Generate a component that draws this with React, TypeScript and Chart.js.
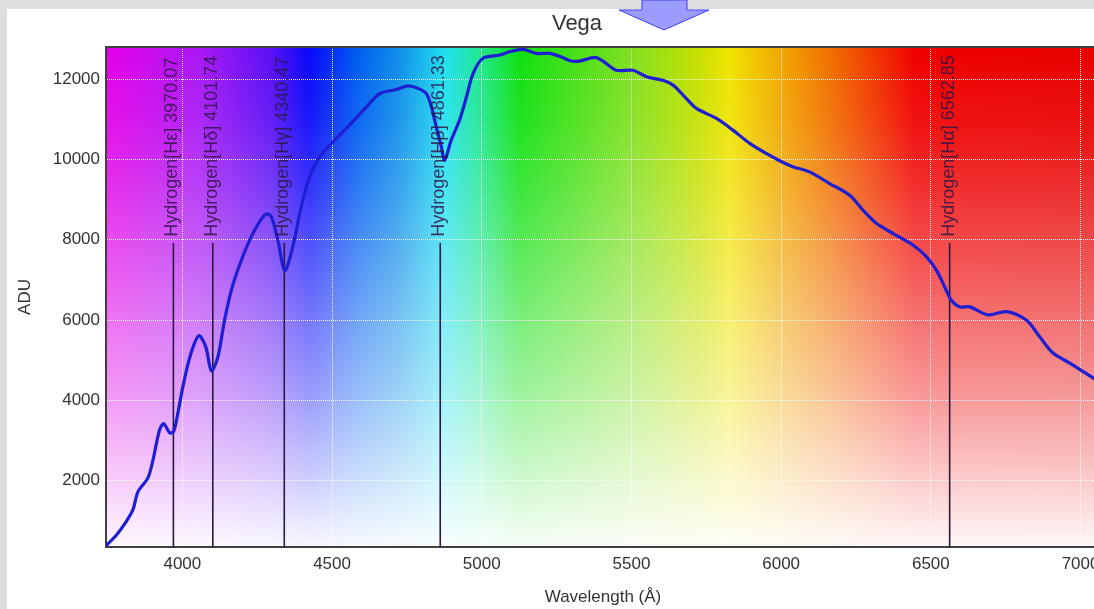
import React, { useEffect, useRef } from "react";
import { Chart, registerables } from "chart.js";

Chart.register(...registerables);

// ---- Data ----
const WAVELENGTHS = [
  3745, 3780, 3813, 3835, 3852, 3885, 3902, 3924, 3938, 3958, 3971, 3985, 4002, 4027, 4055, 4078, 4097,
  4119, 4141, 4164, 4191, 4225, 4258, 4281, 4297, 4319, 4342, 4369, 4397, 4425, 4459, 4503, 4559, 4615,
  4659, 4715, 4754, 4787, 4815, 4832, 4848, 4865, 4876, 4898, 4926, 4949, 4971, 5004, 5060, 5093, 5138,
  5182, 5227, 5266, 5299, 5327, 5377, 5405, 5450, 5505, 5550, 5605, 5639, 5678, 5717, 5784, 5839, 5895,
  5950, 6000, 6039, 6095, 6162, 6229, 6273, 6318, 6373, 6440, 6485, 6518, 6546, 6568, 6596, 6630, 6691,
  6752, 6819, 6863, 6908, 6964, 7044, 7065,
];
const ADU = [
  380, 650, 990, 1280, 1730, 2070, 2520, 3270, 3420, 3190, 3230, 3680, 4350, 5130, 5610, 5340, 4740,
  5090, 6000, 6750, 7370, 7990, 8450, 8640, 8580, 7990, 7230, 7830, 8820, 9570, 10070, 10440, 10860, 11310,
  11640, 11740, 11830, 11770, 11640, 11310, 10810, 10320, 9980, 10480, 10980, 11560, 12140, 12520, 12600, 12680, 12740,
  12640, 12640, 12550, 12450, 12450, 12540, 12450, 12220, 12220, 12060, 11970, 11850, 11560, 11270, 11020, 10730, 10400,
  10150, 9950, 9820, 9690, 9400, 9110, 8740, 8410, 8160, 7870, 7580, 7250, 6830, 6500, 6330, 6330, 6130,
  6210, 6000, 5590, 5180, 4930, 4550, 4450,
];
const LINE_WAVELENGTHS = [3970.07, 4101.74, 4340.47, 4861.33, 6562.85];
const LINE_LABELS = [
  "Hydrogen[Hε] 3970.07",
  "Hydrogen[Hδ] 4101.74",
  "Hydrogen[Hγ] 4340.47",
  "Hydrogen[Hβ] 4861.33",
  "Hydrogen[Hα] 6562.85",
];
const LINE_TOP = 7920;
const LABEL_BASE = 8000;
const X_TICKS = [4000, 4500, 5000, 5500, 6000, 6500, 7000];
const Y_TICKS = [2000, 4000, 6000, 8000, 10000, 12000];
const X_MIN = 3745;
const X_MAX = 7065;
const Y_MIN = 350;
const Y_MAX = 12800;

// ---- Styles ----
const FONT = '"Liberation Sans", Arial, sans-serif';
const TEXT = "#333333";
const SPECTRUM_STOPS: [number, string][] = [
  [3745, "#e400e8"],
  [4059, "#a818f4"],
  [4293, "#5a10f4"],
  [4426, "#0808f8"],
  [4593, "#0060f0"],
  [4727, "#1090e8"],
  [4877, "#20e0f0"],
  [4994, "#20e890"],
  [5128, "#10e010"],
  [5495, "#80e020"],
  [5729, "#c8e000"],
  [5829, "#f0e400"],
  [5996, "#f0a800"],
  [6163, "#f07000"],
  [6330, "#f03000"],
  [6447, "#f00000"],
  [7065, "#e80000"],
];
const FADE_STOPS: [number, number][] = [
  [0, 0],
  [0.15, 0.07],
  [0.3, 0.2],
  [0.5, 0.4],
  [0.7, 0.6],
  [0.85, 0.78],
  [1, 0.97],
];

const spectrumBg = {
  id: "spectrumBg",
  beforeDraw(chart: any) {
    const { ctx, chartArea: a, scales } = chart;
    const x = scales.x;
    ctx.save();
    const g = ctx.createLinearGradient(a.left, 0, a.right, 0);
    for (const [w, c] of SPECTRUM_STOPS) {
      const px = x.getPixelForValue(w);
      const t = Math.min(1, Math.max(0, (px - a.left) / (a.right - a.left)));
      g.addColorStop(t, c);
    }
    ctx.fillStyle = g;
    ctx.fillRect(a.left, a.top, a.right - a.left, a.bottom - a.top);
    const v = ctx.createLinearGradient(0, a.top, 0, a.bottom);
    for (const [t, al] of FADE_STOPS) v.addColorStop(t, `rgba(255,255,255,${al})`);
    ctx.fillStyle = v;
    ctx.fillRect(a.left, a.top, a.right - a.left, a.bottom - a.top);
    ctx.restore();
  },
};

const lineLabels = {
  id: "lineLabels",
  afterDatasetsDraw(chart: any) {
    const { ctx, scales } = chart;
    const x = scales.x;
    const y = scales.y;
    ctx.save();
    ctx.font = `18px ${FONT}`;
    ctx.fillStyle = "rgba(48,22,70,0.85)";
    ctx.textAlign = "left";
    ctx.textBaseline = "middle";
    LINE_WAVELENGTHS.forEach((w, i) => {
      const px = x.getPixelForValue(w) - 1;
      const py = y.getPixelForValue(LABEL_BASE) - 3;
      ctx.save();
      ctx.translate(px, py);
      ctx.rotate(-Math.PI / 2);
      ctx.fillText(LINE_LABELS[i], 0, 0);
      ctx.restore();
    });
    ctx.restore();
  },
  afterDraw(chart: any) {
    const { ctx, chartArea: a } = chart;
    ctx.save();
    ctx.strokeStyle = "#404040";
    ctx.lineWidth = 2;
    ctx.beginPath();
    ctx.moveTo(a.left - 1, a.top);
    ctx.lineTo(a.right, a.top);
    ctx.lineTo(a.right, a.bottom);
    ctx.stroke();
    ctx.restore();
  },
};

export default function App() {
  const ref = useRef<HTMLCanvasElement | null>(null);

  useEffect(() => {
    if (!ref.current) return;
    const spectrum = WAVELENGTHS.map((w, i) => ({ x: w, y: ADU[i] }));
    const lineSets = LINE_WAVELENGTHS.map((w) => ({
      data: [
        { x: w, y: Y_MIN },
        { x: w, y: LINE_TOP },
      ],
      borderColor: "#2c1842",
      borderWidth: 1.6,
      pointRadius: 0,
      tension: 0,
      fill: false,
    }));
    const plain = (v: any) => String(v);
    const chart = new Chart(ref.current, {
      type: "line",
      data: {
        datasets: [
          {
            data: spectrum,
            borderColor: "#1e1ed2",
            borderWidth: 3.2,
            pointRadius: 0,
            tension: 0.3,
            fill: false,
          },
          ...lineSets,
        ],
      },
      options: {
        animation: false,
        responsive: false,
        devicePixelRatio: 1,
        events: [],
        layout: { padding: 0 },
        plugins: {
          legend: { display: false },
          tooltip: { enabled: false },
          title: {
            display: true,
            text: "Vega",
            color: TEXT,
            font: { size: 22, family: FONT, weight: "normal" },
            padding: { top: 1.5, bottom: 10.1 },
          },
        },
        scales: {
          x: {
            type: "linear",
            min: X_MIN,
            max: X_MAX,
            afterBuildTicks: (s: any) => {
              s.ticks = X_TICKS.map((v) => ({ value: v }));
            },
            afterFit: (s: any) => {
              s.height = 62;
            },
            grid: { color: "rgba(255,255,255,0.9)", lineWidth: 1, drawTicks: false },
            border: { display: true, color: "#404040", width: 2, dash: [1, 1] },
            ticks: { color: TEXT, font: { size: 17, family: FONT }, padding: 7, maxRotation: 0, callback: plain },
            title: {
              display: true,
              text: "Wavelength (Å)",
              color: TEXT,
              font: { size: 17, family: FONT },
              padding: { top: 0, bottom: 1 },
            },
          },
          y: {
            type: "linear",
            min: Y_MIN,
            max: Y_MAX,
            afterBuildTicks: (s: any) => {
              s.ticks = Y_TICKS.map((v) => ({ value: v }));
            },
            afterFit: (s: any) => {
              s.width = 99;
            },
            grid: { color: "rgba(255,255,255,0.9)", lineWidth: 1, drawTicks: false },
            border: { display: true, color: "#404040", width: 2, dash: [1, 1] },
            ticks: { color: TEXT, font: { size: 17, family: FONT }, padding: 6, callback: plain },
            title: {
              display: true,
              text: "ADU",
              color: TEXT,
              font: { size: 17, family: FONT },
              padding: { top: 8, bottom: 0 },
            },
          },
          yRight: {
            type: "linear",
            position: "right",
            display: true,
            grid: { display: false },
            border: { display: false },
            ticks: { display: false },
            afterFit: (s: any) => {
              s.width = 47;
            },
          },
        },
      },
      plugins: [spectrumBg, lineLabels],
    } as any);
    return () => chart.destroy();
  }, []);

  return (
    <div
      style={{
        position: "fixed",
        left: 0,
        top: 0,
        width: 1094,
        height: 609,
        background: "#dedede",
        overflow: "hidden",
      }}
    >
      <div
        style={{
          position: "absolute",
          left: 7,
          top: 9,
          width: 1200,
          height: 700,
          background: "#ffffff",
        }}
      />
      <canvas
        ref={ref}
        width={1140}
        height={600}
        style={{ position: "absolute", left: 7, top: 9, width: 1140, height: 600 }}
      />
      <svg
        width={1094}
        height={40}
        style={{ position: "absolute", left: 0, top: 0, pointerEvents: "none" }}
      >
        <polygon
          points="642,0 687,0 687,10 709,10 664,30 619,10 642,10"
          fill="#9c9cff"
          stroke="#3c3cff"
          strokeWidth={1}
        />
      </svg>
    </div>
  );
}
